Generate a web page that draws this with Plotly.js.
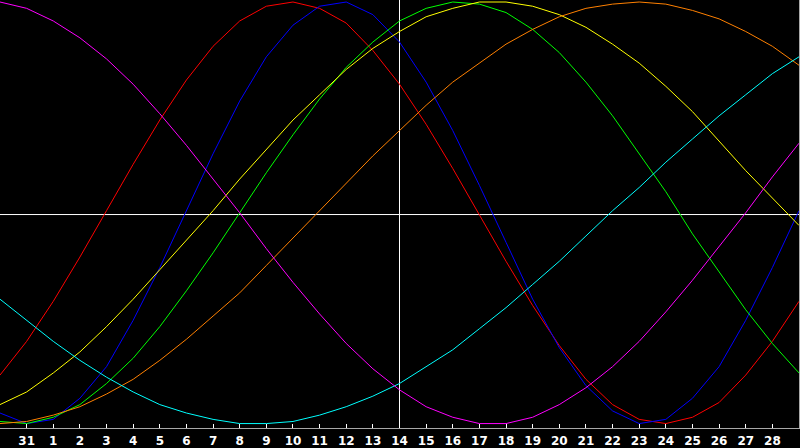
<!DOCTYPE html>
<html>
<head>
<meta charset="utf-8">
<script src="https://cdn.plot.ly/plotly-3.0.1.min.js"></script>
<style>
  html, body { margin: 0; padding: 0; background: #000; }
  #chart { width: 800px; height: 448px; }
</style>
</head>
<body>
<div id="chart"></div>
<script>
// day index along the chart (0 = left edge, 15 = today line)
const days = [0,1,2,3,4,5,6,7,8,9,10,11,12,13,14,15,16,17,18,19,20,21,22,23,24,25,26,27,28,29,30];
// tick labels for day indexes 1..29
const tickDays = [1,2,3,4,5,6,7,8,9,10,11,12,13,14,15,16,17,18,19,20,21,22,23,24,25,26,27,28,29];
const tickLabels = ["31","1","2","3","4","5","6","7","8","9","10","11","12","13","14",
                    "15","16","17","18","19","20","21","22","23","24","25","26","27","28"];
const today = 15;

// cycle values in percent
const emotional    = [-77,-61,-42,-21,1,23,44,63,79,91,98,100,97,90,77,61,42,21,-1,-23,-44,-63,-79,-91,-98,-100,-97,-90,-77,-61,-42];
const physical     = [-95,-100,-98,-88,-73,-51,-26,1,28,53,74,89,98,100,94,81,62,39,13,-14,-41,-64,-82,-94,-100,-98,-88,-73,-51,-26,1];
const intellectual = [-99,-100,-97,-91,-81,-69,-54,-37,-19,0,19,37,54,69,81,91,97,100,99,95,87,76,62,46,28,10,-10,-28,-46,-62,-76];
const aesthetic    = [-91,-85,-76,-66,-54,-41,-27,-13,1,16,30,44,56,68,78,86,93,97,100,100,98,94,88,80,71,60,48,34,20,7,-6];
const awareness    = [-100,-99,-96,-92,-86,-79,-70,-60,-49,-38,-25,-12,1,14,27,39,51,62,71,80,87,93,97,99,100,99,96,92,86,79,70];
const spiritual    = [-41,-51,-61,-70,-78,-85,-91,-95,-98,-100,-100,-99,-96,-92,-87,-81,-73,-65,-55,-45,-34,-23,-11,1,12,24,35,46,56,66,74];
const intuitive    = [100,97,91,83,73,61,47,32,16,0,-17,-33,-48,-62,-74,-84,-92,-97,-100,-100,-97,-91,-83,-73,-61,-47,-32,-16,0,17,33];

const series = [
  { y: emotional,    color: '#ff0000' },
  { y: physical,     color: '#0000ff' },
  { y: intellectual, color: '#00ff00' },
  { y: aesthetic,    color: '#ffff00' },
  { y: awareness,    color: '#ff8000' },
  { y: spiritual,    color: '#00ffff' },
  { y: intuitive,    color: '#ff00ff' }
];

const traces = series.map(s => ({
  x: days,
  y: s.y,
  type: 'scatter',
  mode: 'lines',
  line: { color: s.color, width: 1 },
  hoverinfo: 'skip'
}));

const layout = {
  width: 800,
  height: 448,
  margin: { l: 0, r: 1, t: 0, b: 20, pad: 0 },
  paper_bgcolor: '#000',
  plot_bgcolor: '#000',
  showlegend: false,
  xaxis: {
    range: [0, 30],
    showgrid: false,
    zeroline: false,
    showline: true,
    mirror: true,
    linecolor: '#a8a8a8',
    linewidth: 1,
    ticks: 'inside',
    ticklen: 4,
    tickcolor: '#ffffff',
    tickwidth: 1,
    tickvals: tickDays,
    ticktext: tickLabels,
    ticklabelstandoff: 2,
    tickfont: { family: 'DejaVu Sans', size: 12, color: '#ffffff', weight: 'bold' },
    fixedrange: true
  },
  yaxis: {
    range: [-102.1, 100.95],
    showgrid: false,
    showticklabels: false,
    ticks: '',
    zeroline: false,
    showline: true,
    mirror: true,
    linecolor: '#a8a8a8',
    linewidth: 1,
    fixedrange: true
  },
  shapes: [
    // centre line (sits a pixel under the zero level in the original)
    { type: 'line', xref: 'paper', yref: 'y', x0: 0, x1: 1, y0: -0.83, y1: -0.83,
      line: { color: '#ffffff', width: 1 }, layer: 'below' },
    // today line
    { type: 'line', xref: 'x', yref: 'paper', x0: today, x1: today, y0: 0, y1: 1,
      line: { color: '#ffffff', width: 1 }, layer: 'below' }
  ]
};

Plotly.newPlot('chart', traces, layout, { displayModeBar: false, staticPlot: true });
</script>
</body>
</html>
